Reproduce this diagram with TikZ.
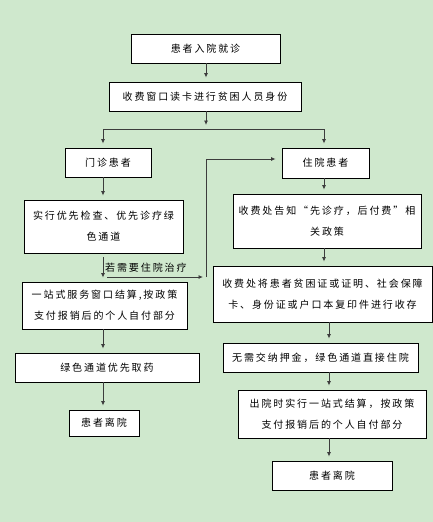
\documentclass[tikz,border=0pt]{standalone}
\usepackage{fontspec}
\newfontfamily\cjk[LetterSpace=19]{Noto Sans CJK SC}
\usetikzlibrary{arrows.meta,calc}
\definecolor{bggreen}{RGB}{207,232,205}
\definecolor{linegray}{RGB}{60,60,60}
\begin{document}
\begin{tikzpicture}[x=1pt,y=-1pt,
  box/.style={draw=black,line width=0.9pt,fill=white,inner sep=0pt,align=center,
    font=\cjk\fontsize{10}{21}\selectfont},
  arr/.style={draw=linegray,line width=0.8pt,-{Latex[length=4.5pt,width=4pt]},shorten >=4pt},
  ln/.style={draw=linegray,line width=0.8pt}]
\fill[bggreen] (0,0) rectangle (433,522);
\useasboundingbox (0,0) rectangle (433,522);

\node[box,minimum width=149pt,minimum height=29pt] (b1) at (205.5,48.5) {患者入院就诊};
\node[box,minimum width=192pt,minimum height=29pt] (b2) at (205,96.5) {收费窗口读卡进行贫困人员身份};
\node[box,minimum width=86pt,minimum height=29pt] (mz) at (108,162.5) {门诊患者};
\node[box,minimum width=87pt,minimum height=30pt] (zy) at (325.5,163) {住院患者};
\node[box,minimum width=159pt,minimum height=53pt] (L1) at (103.5,226.5) {实行优先检查、优先诊疗绿\\色通道};
\node[box,minimum width=165pt,minimum height=47pt] (L2) at (104.5,305.5) {一站式服务窗口结算,按政策\\支付报销后的个人自付部分};
\node[box,minimum width=184pt,minimum height=29pt] (L3) at (107,367.5) {绿色通道优先取药};
\node[box,minimum width=70pt,minimum height=26pt] (L4) at (104,423) {患者离院};
\node[box,minimum width=188pt,minimum height=54pt] (R1) at (327,221) {收费处告知“先诊疗，后付费”相\\关政策};
\node[box,minimum width=219pt,minimum height=56pt] (R2) at (322.5,294) {收费处将患者贫困证或证明、社会保障\\卡、身份证或户口本复印件进行收存};
\node[box,minimum width=195pt,minimum height=29pt] (R3) at (320.5,357.5) {无需交纳押金，绿色通道直接住院};
\node[box,minimum width=188pt,minimum height=48pt] (R4) at (332,414) {出院时实行一站式结算，按政策\\支付报销后的个人自付部分};
\node[box,minimum width=120pt,minimum height=29pt] (R5) at (332,475.5) {患者离院};

\coordinate (sp) at (206,129);
\coordinate (spL) at (103,129);
\coordinate (spR) at (324,129);
\coordinate (rx) at (329,0);
\coordinate (h1) at (107,277);
\coordinate (h2) at (206,277);
\coordinate (h3) at (206,159);

\draw[arr] (b1.south -| sp) -- (sp |- b2.north);
\draw[arr] (b2.south -| sp) -- (sp);
\draw[ln] (spL) -- (spR);
\draw[arr] (spL) -- (spL |- mz.north);
\draw[arr] (spR) -- (spR |- zy.north);
\draw[arr] (mz.south -| spL) -- (spL |- L1.north);
\draw[arr,shorten <=4pt] (L1.south -| spL) -- (spL |- L2.north);
\node[anchor=west,inner sep=0pt,font=\cjk\fontsize{10}{12}\selectfont] (lab) at (105,268) {若需要住院治疗};
\draw[arr,shorten >=3pt] (h1) -- (h2);
\draw[ln] (h2) -- (h3);
\draw[arr,shorten >=6pt] (h3) -- (h3 -| zy.west);
\draw[arr] (zy.south -| spR) -- (spR |- R1.north);
\draw[arr] (R1.south -| spR) -- (spR |- R2.north);
\draw[arr] (R2.south -| rx) -- (rx |- R3.north);
\draw[arr] (R3.south -| rx) -- (rx |- R4.north);
\draw[arr] (R4.south -| rx) -- (rx |- R5.north);
\draw[arr] (L2.south -| spL) -- (spL |- L3.north);
\draw[arr] (L3.south -| spL) -- (spL |- L4.north);
\end{tikzpicture}
\end{document}
